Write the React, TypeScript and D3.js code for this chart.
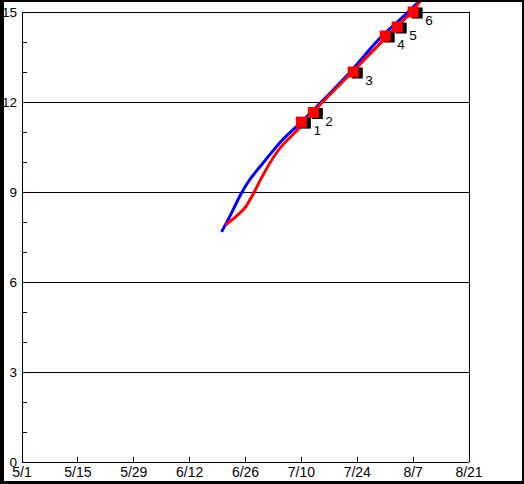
import React from "react";
import * as d3 from "d3";

const xTickLabels = ["5/1", "5/15", "5/29", "6/12", "6/26", "7/10", "7/24", "8/7", "8/21"];
const yTicksMajor = [0, 3, 6, 9, 12, 15];
const yTicksMinor = [1, 2, 4, 5, 7, 8, 10, 11, 13, 14];

const blueDates = ["6/20", "6/22", "6/25", "6/27", "6/30", "7/5", "7/10", "7/15", "7/22", "7/30", "8/6", "8/9"];
const blueValues = [7.67, 8.17, 8.97, 9.4, 9.9, 10.7, 11.33, 12.0, 12.97, 14.17, 15.03, 15.43];

const redDates = ["6/21", "6/24", "6/26", "6/28", "6/30", "7/4", "7/9", "7/14", "7/22", "7/31", "8/7", "8/9"];
const redValues = [7.9, 8.23, 8.5, 8.95, 9.47, 10.35, 11.07, 11.81, 12.9, 14.12, 15.07, 15.4];

const markerDates = ["7/10", "7/13", "7/23", "7/31", "8/3", "8/7"];
const markerValues = [11.33, 11.65, 13.0, 14.2, 14.5, 15.0];
const markerLabels = ["1", "2", "3", "4", "5", "6"];

const toDate = (s: string) => {
  const [m, d] = s.split("/").map(Number);
  return new Date(Date.UTC(2001, m - 1, d));
};

export default function App() {
  const W = 524, H = 484;
  const left = 22, right = 469, top = 12, bottom = 462;
  const x = d3.scaleUtc().domain([toDate("5/1"), toDate("8/21")]).range([left, right]);
  const y = d3.scaleLinear().domain([0, 15]).range([bottom, top]);
  const font = "'Liberation Sans', Arial, sans-serif";

  const line = d3
    .line<[string, number]>()
    .x((d) => x(toDate(d[0])))
    .y((d) => y(d[1]))
    .curve(d3.curveMonotoneX);

  const blue = blueDates.map((d, i) => [d, blueValues[i]] as [string, number]);
  const red = redDates.map((d, i) => [d, redValues[i]] as [string, number]);

  return (
    <svg width={W} height={H} style={{ position: "absolute", left: 0, top: 0 }} xmlns="http://www.w3.org/2000/svg">
      <rect x={0} y={0} width={W} height={H} fill="#fff" />
      {yTicksMajor.map((t) => (
        <line key={"g" + t} x1={left} x2={right} y1={y(t)} y2={y(t)} stroke="#000" strokeWidth={1} shapeRendering="crispEdges" />
      ))}
      {yTicksMinor.map((t) => (
        <line key={"m" + t} x1={left} x2={left + 5} y1={y(t)} y2={y(t)} stroke="#000" strokeWidth={1} shapeRendering="crispEdges" />
      ))}
      <line x1={left} x2={left} y1={top} y2={bottom} stroke="#000" shapeRendering="crispEdges" />
      <line x1={right} x2={right} y1={top} y2={bottom} stroke="#000" shapeRendering="crispEdges" />
      {xTickLabels.map((t) => (
        <g key={"x" + t}>
          <line x1={x(toDate(t))} x2={x(toDate(t))} y1={bottom} y2={bottom - 5} stroke="#000" shapeRendering="crispEdges" />
          <text x={x(toDate(t))} y={477} textAnchor="middle" fontFamily={font} fontSize={14} fill="#000">
            {t}
          </text>
        </g>
      ))}
      {yTicksMajor.map((t) => (
        <text key={"yl" + t} x={17} y={y(t) + 5} textAnchor="end" fontFamily={font} fontSize={13.5} fill="#000">
          {t}
        </text>
      ))}
      <path d={line(blue) || ""} fill="none" stroke="#0000ff" strokeWidth={3} strokeLinejoin="round" />
      <path d={line(red) || ""} fill="none" stroke="#ff0000" strokeWidth={3} strokeLinejoin="round" />
      {markerDates.map((d, i) => {
        const cx = x(toDate(d));
        const cy = y(markerValues[i]);
        return (
          <g key={"mk" + i}>
            <rect x={cx - 5.5 + 4} y={cy - 5.5 + 1} width={11} height={11} fill="#000" />
            <rect x={cx - 5.5} y={cy - 5.5} width={11} height={11} fill="#ff0000" />
            <text x={cx + 12} y={cy + 13} fontFamily={font} fontSize={13.5} fill="#000">
              {markerLabels[i]}
            </text>
          </g>
        );
      })}
      <rect x={0} y={0} width={4} height={H} fill="#000" />
      <rect x={0} y={0} width={W} height={2} fill="#000" />
      <rect x={W - 2} y={0} width={2} height={H} fill="#000" />
      <rect x={0} y={H - 3} width={W} height={3} fill="#000" />
    </svg>
  );
}
